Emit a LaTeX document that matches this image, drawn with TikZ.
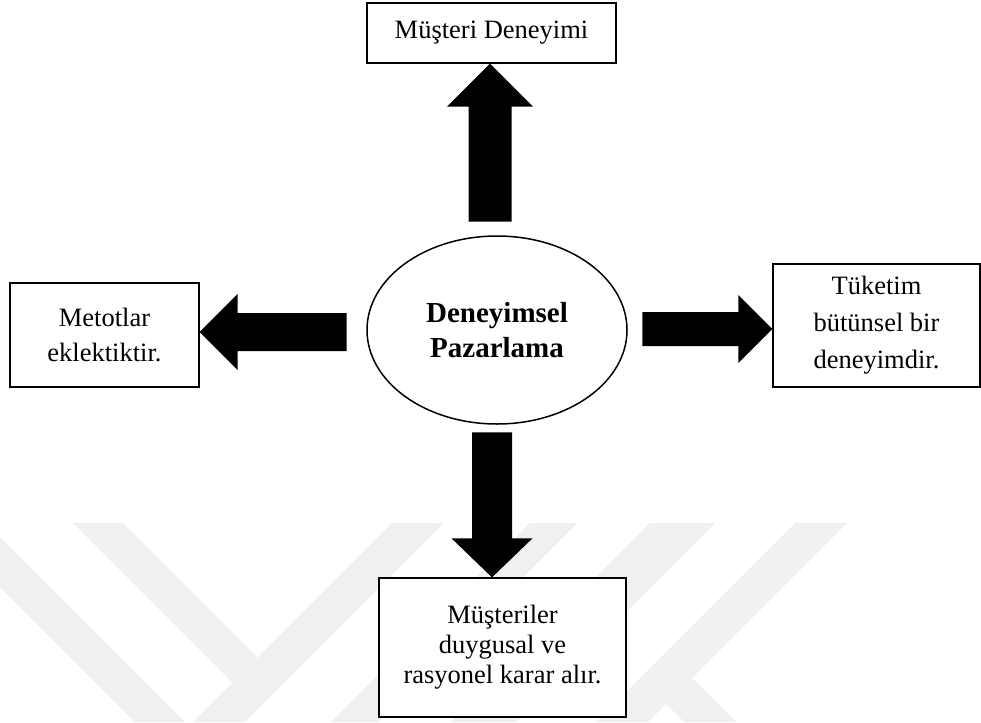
\documentclass[tikz,border=0pt]{standalone}
\usepackage{fontspec}
\setmainfont{Liberation Serif}
\usetikzlibrary{shapes.geometric,calc}
\definecolor{wmgray}{RGB}{240,240,240}
\tikzset{
  box/.style={draw=black, line width=1.3pt, fill=white, rectangle,
    inner sep=2pt, align=center, font=\fontsize{26.5}{30}\selectfont},
  hub/.style={draw=black, line width=1.5pt, fill=white, ellipse,
    inner sep=0pt, align=center, font=\fontsize{29}{35}\selectfont\bfseries},
  blockarrow/.style={fill=black},
  watermark/.style={fill=wmgray},
}
\begin{document}
\begin{tikzpicture}[x=1pt,y=-1pt]
\useasboundingbox (0,0) rectangle (981,722);

% faint background bands
\fill[watermark] (0,537) -- (185,722) -- (135,722) -- (0,587) -- cycle;
\fill[watermark] (73,523) -- (123,523) -- (257.5,657.5) -- (232.5,682.5) -- cycle;
\fill[watermark] (392,523) -- (444,523) -- (245,722) -- (193,722) -- cycle;
\fill[watermark] (530,523) -- (577,523) -- (378,722) -- (331,722) -- cycle;
\fill[watermark] (650,523) -- (715,523) -- (516,722) -- (451,722) -- cycle;
\fill[watermark] (795,523) -- (847,523) -- (648,722) -- (596,722) -- cycle;
\fill[watermark] (692,678) -- (736,722) -- (684,722) -- (666,704) -- cycle;

% central concept and the four outcomes
\node[hub, minimum width=260pt, minimum height=188pt] (hub) at (497,330) {Deneyimsel\\Pazarlama};
\node[box, minimum width=249pt, minimum height=60pt] (top) at (491.5,33) {Müşteri Deneyimi};
\node[box, minimum width=189pt, minimum height=104pt,
      font=\fontsize{26.5}{35}\selectfont] (lft) at (104.5,335) {Metotlar\\eklektiktir.};
\node[box, minimum width=207pt, minimum height=123pt,
      font=\fontsize{26.5}{37}\selectfont] (rgt) at (876.5,325.5) {Tüketim\\bütünsel bir\\deneyimdir.};
\node[box, minimum width=247pt, minimum height=139pt] (bot) at (502.5,647.5) {Müşteriler\\duygusal ve\\rasyonel karar alır.};

% block arrows, tips resting on the box borders
\fill[blockarrow] ($(top.south)+(-1.5,0)$) -- ++(43,43) -- ++(-21.5,0) -- ++(0,115)
  -- ++(-43,0) -- ++(0,-115) -- ++(-21.5,0) -- cycle;
\fill[blockarrow] ($(bot.north)+(-10.5,0)$) -- ++(40.5,-39) -- ++(-20.5,0) -- ++(0,-106)
  -- ++(-40,0) -- ++(0,106) -- ++(-20.5,0) -- cycle;
\fill[blockarrow] ($(rgt.west)+(0,3.5)$) -- ++(-34,-34) -- ++(0,17) -- ++(-96,0)
  -- ++(0,34) -- ++(96,0) -- ++(0,17) -- cycle;
\fill[blockarrow] ($(lft.east)+(0,-3)$) -- ++(38,-38) -- ++(0,19) -- ++(109,0)
  -- ++(0,38) -- ++(-109,0) -- ++(0,19) -- cycle;
\end{tikzpicture}
\end{document}
